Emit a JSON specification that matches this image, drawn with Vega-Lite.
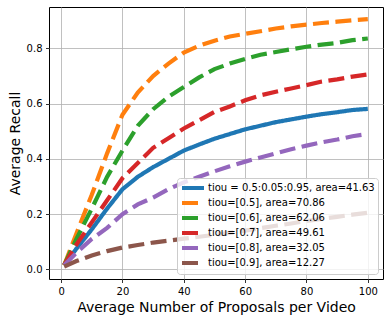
{
  "$schema": "https://vega.github.io/schema/vega-lite/v6.json",
  "width": 334,
  "height": 272,
  "autosize": {"type": "none"},
  "padding": {"left": 49, "top": 7, "right": 7, "bottom": 42},
  "background": "white",
  "config": {
    "font": "DejaVu Sans",
    "view": {"stroke": "black", "strokeWidth": 1},
    "axis": {
      "grid": true, "gridColor": "#b0b0b0", "gridWidth": 0.8, "gridOpacity": 1,
      "domain": false, "tickColor": "black", "tickSize": 3.5, "tickWidth": 0.8,
      "labelFontSize": 10, "labelColor": "black", "labelPadding": 3.5, "labelFont": "DejaVu Sans",
      "titleFontSize": 14, "titleFontWeight": "normal", "titleColor": "black", "titleFont": "DejaVu Sans"
    },
    "legend": {
      "orient": "bottom-right", "offset": 5,
      "fillColor": "rgba(255,255,255,0.8)", "strokeColor": "#cccccc", "cornerRadius": 3,
      "padding": 3, "labelFontSize": 10, "labelColor": "black", "labelFont": "DejaVu Sans", "labelLimit": 400,
      "symbolType": "M-1,0H3.4", "symbolStrokeWidth": 4, "symbolSize": 100, "labelOffset": 14,
      "rowPadding": -1.2
    }
  },
  "datasets": {
    "names": [
      {"key": "a", "name": "tiou = 0.5:0.05:0.95, area=41.63"},
      {"key": "b", "name": "tiou=[0.5], area=70.86"},
      {"key": "c", "name": "tiou=[0.6], area=62.06"},
      {"key": "d", "name": "tiou=[0.7], area=49.61"},
      {"key": "e", "name": "tiou=[0.8], area=32.05"},
      {"key": "f", "name": "tiou=[0.9], area=12.27"}
    ]
  },
  "data": {
    "values": [
      {"x": 1, "a": 0.015, "b": 0.015, "c": 0.015, "d": 0.015, "e": 0.015, "f": 0.01},
      {"x": 5, "a": 0.075, "b": 0.13, "c": 0.11, "d": 0.09, "e": 0.06, "f": 0.03},
      {"x": 10, "a": 0.145, "b": 0.27, "c": 0.22, "d": 0.17, "e": 0.11, "f": 0.05},
      {"x": 15, "a": 0.22, "b": 0.42, "c": 0.335, "d": 0.25, "e": 0.15, "f": 0.066},
      {"x": 20, "a": 0.29, "b": 0.56, "c": 0.43, "d": 0.33, "e": 0.2, "f": 0.079},
      {"x": 25, "a": 0.335, "b": 0.64, "c": 0.52, "d": 0.385, "e": 0.235, "f": 0.088},
      {"x": 30, "a": 0.37, "b": 0.7, "c": 0.58, "d": 0.44, "e": 0.26, "f": 0.097},
      {"x": 35, "a": 0.4, "b": 0.745, "c": 0.625, "d": 0.475, "e": 0.29, "f": 0.104},
      {"x": 40, "a": 0.43, "b": 0.785, "c": 0.66, "d": 0.51, "e": 0.315, "f": 0.111},
      {"x": 45, "a": 0.452, "b": 0.81, "c": 0.695, "d": 0.54, "e": 0.335, "f": 0.118},
      {"x": 50, "a": 0.473, "b": 0.828, "c": 0.725, "d": 0.57, "e": 0.355, "f": 0.125},
      {"x": 55, "a": 0.49, "b": 0.843, "c": 0.745, "d": 0.59, "e": 0.373, "f": 0.132},
      {"x": 60, "a": 0.507, "b": 0.853, "c": 0.762, "d": 0.612, "e": 0.39, "f": 0.14},
      {"x": 65, "a": 0.52, "b": 0.862, "c": 0.777, "d": 0.63, "e": 0.405, "f": 0.149},
      {"x": 70, "a": 0.533, "b": 0.872, "c": 0.787, "d": 0.643, "e": 0.42, "f": 0.158},
      {"x": 75, "a": 0.543, "b": 0.88, "c": 0.797, "d": 0.655, "e": 0.435, "f": 0.166},
      {"x": 80, "a": 0.553, "b": 0.886, "c": 0.806, "d": 0.667, "e": 0.448, "f": 0.175},
      {"x": 85, "a": 0.562, "b": 0.892, "c": 0.814, "d": 0.68, "e": 0.46, "f": 0.183},
      {"x": 90, "a": 0.569, "b": 0.897, "c": 0.82, "d": 0.688, "e": 0.47, "f": 0.19},
      {"x": 95, "a": 0.577, "b": 0.902, "c": 0.83, "d": 0.698, "e": 0.482, "f": 0.198},
      {"x": 100, "a": 0.581, "b": 0.906, "c": 0.836, "d": 0.706, "e": 0.49, "f": 0.205}
    ]
  },
  "transform": [
    {"fold": ["a", "b", "c", "d", "e", "f"], "as": ["key", "y"]},
    {"lookup": "key", "from": {"data": {"name": "names"}, "key": "key", "fields": ["name"]}}
  ],
  "mark": {"type": "line", "strokeWidth": 4.2, "clip": true},
  "encoding": {
    "x": {
      "field": "x", "type": "quantitative",
      "scale": {"domain": [-3.95, 104.95], "nice": false, "zero": false},
      "axis": {"values": [0, 20, 40, 60, 80, 100], "title": "Average Number of Proposals per Video"}
    },
    "y": {
      "field": "y", "type": "quantitative",
      "scale": {"domain": [-0.035, 0.95], "nice": false, "zero": false},
      "axis": {"values": [0, 0.2, 0.4, 0.6, 0.8], "format": ".1f", "title": "Average Recall"}
    },
    "color": {
      "field": "name", "type": "nominal", "title": null,
      "scale": {
        "domain": ["tiou = 0.5:0.05:0.95, area=41.63", "tiou=[0.5], area=70.86", "tiou=[0.6], area=62.06", "tiou=[0.7], area=49.61", "tiou=[0.8], area=32.05", "tiou=[0.9], area=12.27"],
        "range": ["#1f77b4", "#ff7f0e", "#2ca02c", "#d62728", "#9467bd", "#8c564b"]
      }
    },
    "strokeDash": {
      "field": "name", "type": "nominal", "title": null,
      "scale": {
        "domain": ["tiou = 0.5:0.05:0.95, area=41.63", "tiou=[0.5], area=70.86", "tiou=[0.6], area=62.06", "tiou=[0.7], area=49.61", "tiou=[0.8], area=32.05", "tiou=[0.9], area=12.27"],
        "range": [[1, 0], [16, 6.5], [16, 6.5], [16, 6.5], [16, 6.5], [16, 6.5]]
      }
    }
  }
}
